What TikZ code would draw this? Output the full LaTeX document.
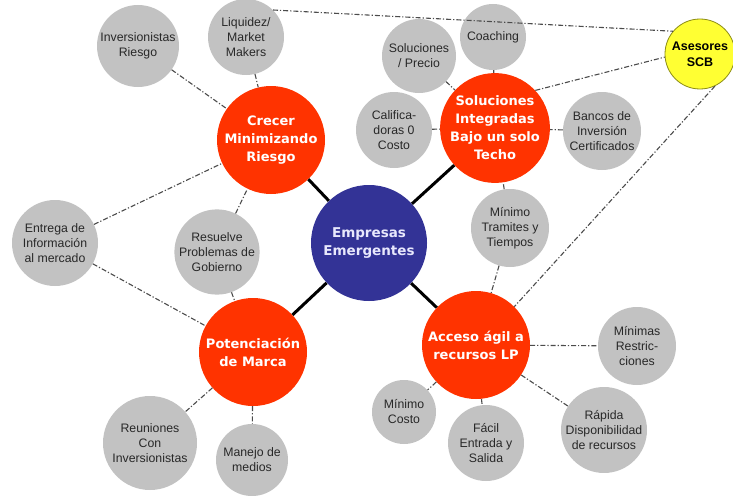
\documentclass[tikz,border=0pt]{standalone}
\usepackage{fontspec}
\setmainfont{Liberation Sans}
\newfontfamily\vfont{DejaVu Sans}
\definecolor{redc}{RGB}{255,51,0}
\definecolor{bluec}{RGB}{51,51,150}
\definecolor{hubtext}{RGB}{232,232,252}
\definecolor{greyc}{RGB}{194,194,194}
\definecolor{greytext}{RGB}{40,40,40}
\definecolor{yellowc}{RGB}{255,255,51}
\definecolor{yellowb}{RGB}{140,140,20}
\definecolor{linec}{RGB}{75,75,75}
\tikzset{
  base/.style={circle, inner sep=0pt, align=center},
  topic/.style={base, fill=redc, text=white, minimum size=108pt,
    font=\vfont\bfseries\fontsize{13}{18}\selectfont},
  hub/.style={base, fill=bluec, text=hubtext, minimum size=116pt,
    font=\vfont\bfseries\fontsize{13.5}{18}\selectfont},
  leaf/.style={base, fill=greyc, text=greytext,
    font=\fontsize{12.3}{15}\selectfont},
  adv/.style={base, fill=yellowc, draw=yellowb, line width=0.8pt, minimum size=70pt,
    font=\bfseries\fontsize{12.5}{16}\selectfont},
  dd/.style={draw=linec, line width=1.1pt, dash pattern=on 5pt off 2pt on 1.2pt off 2pt},
  spoke/.style={draw=black, line width=3pt}
}
\begin{document}
\begin{tikzpicture}[x=1pt,y=-1pt]
\useasboundingbox (0,0) rectangle (733,495);
\fill[white] (0,0) rectangle (733,495);
% hub and topics
\node[hub] (hub) at (369,243) {Empresas\\Emergentes};
\node[topic] (crecer) at (271,140) {Crecer\\Minimizando\\Riesgo};
\node[topic] (sol) at (495,128) {Soluciones\\Integradas\\Bajo un solo\\Techo};
\node[topic] (pot) at (253,352) {Potenciación\\de Marca};
\node[topic] (acc) at (476,345) {Acceso ágil a\\recursos LP};
\node[adv] (ase) at (700,54) {Asesores\\SCB};
% leaves
\node[leaf, minimum size=82pt] (inv) at (138,46) {Inversionistas\\Riesgo};
\node[leaf, minimum size=76pt] (liq) at (246,37) {Liquidez/\\Market\\Makers};
\node[leaf, minimum size=66pt] (coach) at (493,37) {Coaching};
\node[leaf, minimum size=74pt] (solp) at (419,56) {Soluciones\\/ Precio};
\node[leaf, minimum size=76pt] (cal) at (394,130) {Califica-\\doras 0\\Costo};
\node[leaf, minimum size=78pt] (banc) at (602,131) {Bancos de\\Inversión\\Certificados};
\node[leaf, minimum size=78pt] (tram) at (510,228) {Mínimo\\Tramites y\\Tiempos};
\node[leaf, minimum size=86pt] (ent) at (55,243) {Entrega de\\Información\\al mercado};
\node[leaf, minimum size=80pt] (res) at (217,252) {Resuelve\\Problemas de\\Gobierno};
\node[leaf, minimum size=94pt] (reu) at (150,443) {Reuniones\\Con\\Inversionistas};
\node[leaf, minimum size=72pt] (man) at (252,460) {Manejo de\\medios};
\node[leaf, minimum size=64pt] (mco) at (404,412) {Mínimo\\Costo};
\node[leaf, minimum size=76pt] (fac) at (486,443) {Fácil\\Entrada y\\Salida};
\node[leaf, minimum size=84pt] (rap) at (604,430) {Rápida\\Disponibilidad\\de recursos};
\node[leaf, minimum size=78pt] (mmr) at (637,346) {Mínimas\\Restric-\\ciones};
% spokes
\draw[spoke] (hub) -- (crecer);
\draw[spoke] (hub) -- (sol);
\draw[spoke] (hub) -- (pot);
\draw[spoke] (hub) -- (acc);
% dash-dot links
\draw[dd] (inv) -- (crecer);
\draw[dd] (liq) -- (crecer);
\draw[dd] (liq.north east) -- (ase.140);
\draw[dd] (ent) -- (crecer);
\draw[dd] (res) -- (crecer);
\draw[dd] (res) -- (pot);
\draw[dd] (ent) -- (pot);
\draw[dd] (pot) -- (reu);
\draw[dd] (pot) -- (man);
\draw[dd] (solp) -- (sol);
\draw[dd] (coach) -- (sol);
\draw[dd] (cal) -- (sol);
\draw[dd] (banc) -- (sol);
\draw[dd] (sol.43) -- (ase.185);
\draw[dd] (tram) -- (sol);
\draw[dd] (tram) -- (acc);
\draw[dd] (ase.-65) -- (acc.45);
\draw[dd] (acc) -- (mmr);
\draw[dd] (acc) -- (rap);
\draw[dd] (acc) -- (fac);
\draw[dd] (acc) -- (mco);
\end{tikzpicture}
\end{document}
